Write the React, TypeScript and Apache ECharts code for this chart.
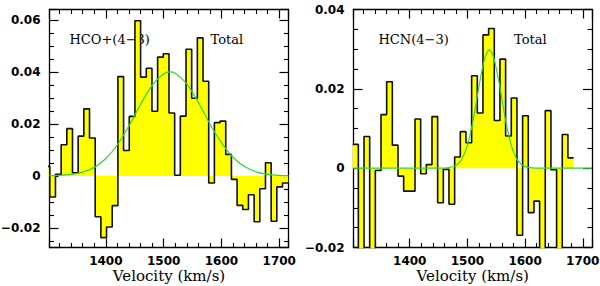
import React, { useEffect, useRef } from "react";
import * as echarts from "echarts";

// Shared velocity axis range (km/s) and channel width
const VEL_MIN = 1302.5;
const VEL_MAX = 1716;
const CHANNEL_WIDTH = 9.82;

// HCO+(4-3) spectrum: left edge of first channel, then flux per channel
const hcoFirstEdge = 1293.18;
const hcoFlux = [
  0.0037, -0.0081, 0.0006, 0.012, 0.0182, 0.0012, 0.0153, 0.0258, 0.0146, -0.0157,
  -0.0237, -0.0196, -0.0114, 0.0382, 0.0098, 0.0229, 0.0597, 0.038, 0.0414, 0.0249,
  0.0457, 0.047, 0.0242, 0.0003, 0.023, 0.0487, 0.0299, 0.0531, 0.0364, -0.0027,
  0.0205, 0.0211, 0.0083, -0.0013, -0.0113, -0.0129, -0.0072, -0.0176, -0.0049, 0.0051,
  -0.0174, -0.0042, -0.0027,
];
// HCO+ Gaussian fit
const hcoFitVel = [1302.5, 1320, 1340, 1360, 1380, 1400, 1420, 1440, 1460, 1480, 1500, 1511, 1520, 1540, 1560, 1580, 1600, 1620, 1640, 1660, 1680, 1700, 1716];
const hcoFitFlux = [0.0001, 0.0002, 0.0006, 0.0015, 0.0033, 0.0067, 0.012, 0.0193, 0.0275, 0.0348, 0.0393, 0.04, 0.0395, 0.0354, 0.0283, 0.02, 0.0128, 0.0072, 0.0036, 0.0016, 0.0006, 0.0002, 0.0001];

// HCN(4-3) spectrum
const hcnFirstEdge = 1301.1;
const hcnFlux = [
  0.006, -0.03, 0.008, -0.03, -0.0006, 0.0135, 0.0218, 0.0058, -0.002, -0.0058,
  -0.0058, 0.0124, -0.0014, 0.0009, 0.013, -0.0087, -0.0003, -0.0091, 0.0028, 0.0092,
  0.0064, 0.0233, 0.0139, 0.0336, 0.0352, 0.012, 0.0275, 0.0081, 0.0177, -0.0169,
  0.0132, -0.0112, -0.0083, -0.03, 0.0145, -0.0004, -0.03, 0.0085, 0.0026,
];
const hcnFitVel = [1302.5, 1450, 1460, 1470, 1480, 1490, 1500, 1510, 1520, 1530, 1538, 1545, 1555, 1565, 1575, 1585, 1595, 1605, 1620, 1716];
const hcnFitFlux = [0, 0, 0, 0.0002, 0.0007, 0.0022, 0.0058, 0.0122, 0.0206, 0.0277, 0.0298, 0.0282, 0.0215, 0.013, 0.0063, 0.0024, 0.0008, 0.0002, 0, 0];

// Panel y ranges
const hcoYRange = [-0.0275, 0.064];
const hcnYRange = [-0.02, 0.04];

const panelLabels = [
  { line: "HCO+(4−3)", total: "Total" },
  { line: "HCN(4−3)", total: "Total" },
];

function stepData(firstEdge: number, flux: number[]) {
  const pts = flux.map((v, i) => [firstEdge + i * CHANNEL_WIDTH, v]);
  pts.push([firstEdge + flux.length * CHANNEL_WIDTH, flux[flux.length - 1]]);
  return pts;
}

const fitData = (vel: number[], flux: number[]) => vel.map((v, i) => [v, flux[i]]);

const TICK_COLOR = "#000";
const TICK_FONT = { fontFamily: "DejaVu Sans", fontSize: 12, fontWeight: "bold", color: "#000" };

function makeXAxes(gridIndex: number) {
  const common = {
    type: "value",
    gridIndex,
    min: VEL_MIN,
    max: VEL_MAX,
    minInterval: 100,
    maxInterval: 100,
    splitLine: { show: false },
    minorSplitLine: { show: false },
    axisLine: { show: true, onZero: false, lineStyle: { color: TICK_COLOR, width: 1.3 } },
    axisTick: { show: true, inside: true, length: 9, lineStyle: { color: TICK_COLOR, width: 1.2 } },
    minorTick: { show: true, splitNumber: 5, length: 4.5, lineStyle: { color: TICK_COLOR, width: 1.1 } },
  };
  return [
    {
      ...common,
      position: "bottom",
      axisLabel: {
        show: true,
        margin: 7,
        showMinLabel: false,
        showMaxLabel: false,
        formatter: (v: number) => String(Math.round(v)),
        ...TICK_FONT,
      },
      name: "Velocity (km/s)",
      nameLocation: "middle",
      nameGap: 21,
      nameMoveOverlap: false,
      nameTextStyle: { fontFamily: "DejaVu Serif", fontSize: 15, color: "#000" },
    },
    { ...common, position: "top", axisLabel: { show: false } },
  ];
}

function makeYAxes(gridIndex: number, range: number[], showEnds: boolean) {
  const common = {
    type: "value",
    gridIndex,
    min: range[0],
    max: range[1],
    minInterval: 0.02,
    maxInterval: 0.02,
    splitLine: { show: false },
    minorSplitLine: { show: false },
    axisLine: { show: true, onZero: false, lineStyle: { color: TICK_COLOR, width: 1.3 } },
    axisTick: { show: true, inside: true, length: 9, lineStyle: { color: TICK_COLOR, width: 1.2 } },
    minorTick: { show: true, splitNumber: 4, length: 4.5, lineStyle: { color: TICK_COLOR, width: 1.1 } },
  };
  return [
    {
      ...common,
      position: "left",
      axisLabel: {
        show: true,
        margin: 9,
        showMinLabel: showEnds,
        showMaxLabel: showEnds,
        formatter: (v: number) =>
          Math.abs(v) < 1e-9 ? "0" : (v < 0 ? "−" : "") + Math.abs(v).toFixed(2),
        ...TICK_FONT,
      },
    },
    { ...common, position: "right", axisLabel: { show: false } },
  ];
}

function histSeries(axisIdx: number, data: number[][]) {
  return {
    type: "line",
    xAxisIndex: axisIdx,
    yAxisIndex: axisIdx,
    data,
    step: "end",
    symbol: "none",
    clip: true,
    z: 3,
    lineStyle: { color: "#111", width: 1.6 },
    areaStyle: { color: "#ffff00", opacity: 1, origin: 0 },
  };
}

function fitSeries(axisIdx: number, data: number[][]) {
  return {
    type: "line",
    xAxisIndex: axisIdx,
    yAxisIndex: axisIdx,
    data,
    symbol: "none",
    smooth: 0.3,
    clip: true,
    z: 4,
    lineStyle: { color: "#33d633", width: 1.2 },
  };
}

const labelFont = { fontFamily: "DejaVu Serif", fontSize: 13, fill: "#000" };

export default function App() {
  const ref = useRef<HTMLDivElement>(null);
  useEffect(() => {
    if (!ref.current) return;
    const chart = echarts.init(ref.current, null, { renderer: "svg" });
    const option: any = {
      animation: false,
      backgroundColor: "#fff",
      grid: [
        { left: 49.5, top: 9.5, width: 239, height: 238, containLabel: false, outerBoundsMode: "none" },
        { left: 353.5, top: 9.5, width: 238.5, height: 238, containLabel: false, outerBoundsMode: "none" },
      ],
      xAxis: [...makeXAxes(0), ...makeXAxes(1)],
      yAxis: [...makeYAxes(0, hcoYRange, false), ...makeYAxes(1, hcnYRange, true)],
      series: [
        histSeries(0, stepData(hcoFirstEdge, hcoFlux)),
        fitSeries(0, fitData(hcoFitVel, hcoFitFlux)),
        histSeries(2, stepData(hcnFirstEdge, hcnFlux)),
        fitSeries(2, fitData(hcnFitVel, hcnFitFlux)),
      ],
      graphic: [
        { type: "text", z: 0, x: 69.5, y: 39, style: { ...labelFont, text: panelLabels[0].line, verticalAlign: "middle" } },
        { type: "text", z: 0, x: 210.5, y: 39, style: { ...labelFont, text: panelLabels[0].total, verticalAlign: "middle" } },
        { type: "text", z: 0, x: 378.5, y: 39, style: { ...labelFont, text: panelLabels[1].line, verticalAlign: "middle" } },
        { type: "text", z: 0, x: 514, y: 39, style: { ...labelFont, text: panelLabels[1].total, verticalAlign: "middle" } },
      ],
    };
    chart.setOption(option);
    return () => chart.dispose();
  }, []);
  return (
    <div
      ref={ref}
      style={{ position: "absolute", left: 0, top: 0, width: 600, height: 286, background: "#fff" }}
    />
  );
}
